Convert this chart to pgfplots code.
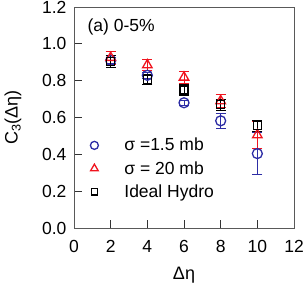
\documentclass[border=0pt]{standalone}
\usepackage{fontspec}
\setmainfont{Liberation Sans}
\usepackage{pgfplots}
\pgfplotsset{compat=1.18}
\definecolor{cblue}{RGB}{45,45,165}
\definecolor{cred}{RGB}{240,20,30}
\begin{document}
\begin{tikzpicture}
\begin{axis}[
  name=ax,
  scale only axis, width=220pt, height=221pt,
  xmin=0, xmax=12, ymin=0, ymax=1.2,
  xtick={0,2,...,12}, ytick={0,0.2,...,1.2},
  /pgf/number format/assume math mode=true,
  tick align=inside, xtick pos=bottom, ytick pos=left,
  major tick length=8pt,
  axis line style={draw=black!65, line width=0.9pt},
  tick style={black!80, line width=0.8pt},
  ticklabel style={font=\fontsize{17.5}{19}\selectfont},
  xticklabel style={yshift=-9pt},
  yticklabel style={xshift=-4pt, /pgf/number format/.cd,fixed,fixed zerofill,precision=1},
  xlabel={Δη}, ylabel={C$_{\mathrm{3}}$(Δη)},
  label style={font=\fontsize{18}{20}\selectfont},
  xlabel style={at={(axis description cs:0.5,0)}, anchor=center, yshift=-47pt},
  ylabel style={at={(axis description cs:0,0.5)}, anchor=center, yshift=61pt},
  legend style={draw=none, fill=none, at={(0.06,0.425)}, anchor=north west,
    font=\fontsize{17.5}{19}\selectfont, row sep=5pt},
  legend cell align=left,
  legend image code/.code={\draw[#1, mark options={scale=0.8}] plot coordinates {(0.3cm,0cm)};},
]
\addplot[only marks, draw=cblue, line width=1.3pt, mark=o, mark size=5pt,
  error bars/.cd, y dir=both, y explicit, error bar style={line width=1pt, cblue}, error mark options={rotate=90, mark size=5pt, line width=1pt, cblue}]
  coordinates {(2,0.91) +- (0,0.015) (4,0.829) +- (0,0.015) (6,0.68) +- (0,0.015) (8,0.582) +- (0,0.04) (10,0.404) +- (0,0.115)};
\addlegendentry{\hspace{24pt}σ =1.5 mb}
\addplot[only marks, draw=cred, line width=1.3pt, mark=triangle, mark size=5.5pt,
  error bars/.cd, y dir=both, y explicit, error bar style={line width=1pt, cred}, error mark options={rotate=90, mark size=5pt, line width=1pt, cred}]
  coordinates {(2,0.925) +- (0,0.035) (4,0.885) +- (0,0.028) (6,0.818) +- (0,0.033) (8,0.69) +- (0,0.033) (10,0.505) +- (0,0.075)};
\addlegendentry{\hspace{24pt}σ = 20 mb}
\addplot[only marks, draw=black, line width=1.3pt, mark=square, mark size=4pt,
  error bars/.cd, y dir=both, y explicit, error bar style={line width=1pt, black}, error mark options={rotate=90, mark size=5pt, line width=1pt, black}]
  coordinates {(2,0.904) +- (0,0.035) (4,0.807) +- (0,0.027) (6,0.75) +- (0,0.03) (8,0.67) +- (0,0.03) (10,0.555) +- (0,0.03)};
\addlegendentry{\hspace{24pt}Ideal Hydro}
\node[anchor=west, font=\fontsize{17.5}{19}\selectfont] at (axis cs:0.55,1.09) {(a) 0-5\%};
\end{axis}
\pgfresetboundingbox
\path[use as bounding box] ([shift={(-74pt,-58pt)}]ax.south west) rectangle ([shift={(10pt,7pt)}]ax.north east);
\end{tikzpicture}
\end{document}
